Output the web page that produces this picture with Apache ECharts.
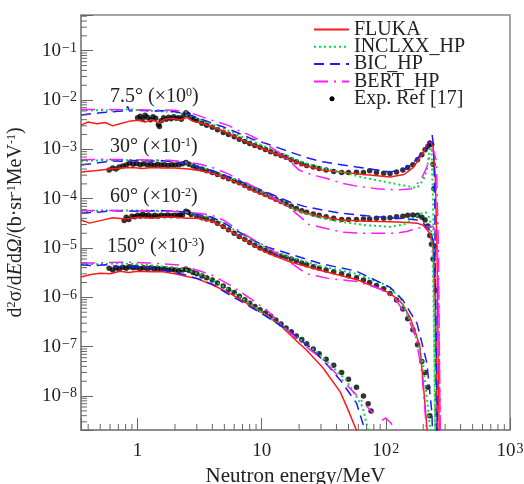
<!DOCTYPE html>
<html>
<head>
<meta charset="utf-8">
<script src="https://cdn.jsdelivr.net/npm/echarts@6/dist/echarts.min.js"></script>
<style>
html, body { margin: 0; padding: 0; background: #fff; }
#chart { width: 524px; height: 484px; }
</style>
</head>
<body>
<div id="chart"></div>
<script>
// axis ranges
var X_MIN = 0.35, X_MAX = 1000;
var Y_MIN = 2.05e-9, Y_MAX = 0.53;

// minor tick positions (log axes)
var xMinorTicks = [0.4, 0.5, 0.6, 0.7, 0.8, 0.9, 2, 3, 4, 5, 6, 7, 8, 9,
  20, 30, 40, 50, 60, 70, 80, 90, 200, 300, 400, 500, 600, 700, 800, 900];
var yMinorMant = [2, 3, 4, 5, 6, 7, 8, 9];
var yMinorExp = [-9, -8, -7, -6, -5, -4, -3, -2, -1];

// ---- 7.5 deg (x10^0) ----
var fluka7 = [[0.35,3.1e-3],[0.4,3.6e-3],[0.47,3.3e-3],[0.55,3.5e-3],[0.63,3.0e-3],[0.72,3.3e-3],[0.85,3.7e-3],[1.0,3.9e-3],[1.15,3.6e-3],[1.3,4.0e-3],[1.5,3.4e-3],[1.65,4.1e-3],[1.9,4.3e-3],[2.2,4.0e-3],[2.5,4.4e-3],[2.8,3.7e-3],[3.3,3.4e-3],[4.0,2.9e-3],[5.0,2.3e-3],[6.6,1.65e-3],[8.5,1.25e-3],[11,9.5e-4],[14,7.5e-4],[17.8,5.8e-4],[22,4.7e-4],[31,3.8e-4],[58,3.2e-4],[108,2.75e-4],[140,3.1e-4],[165,4.2e-4],[199,8.4e-4],[218,1.35e-3],[231,1.4e-3],[240,1.1e-3],[250,3e-4],[258,1e-5],[266,1e-8],[275,1e-10]];
var incl7 = [[0.35,6.3e-3],[0.5,6.2e-3],[0.7,6.1e-3],[0.85,6.6e-3],[1.0,6.2e-3],[1.4,6.0e-3],[2.0,5.7e-3],[2.6,4.9e-3],[3.2,4.0e-3],[4.0,3.2e-3],[5.0,2.6e-3],[6.6,1.9e-3],[8.5,1.45e-3],[11,1.1e-3],[14,8.6e-4],[17.8,6.6e-4],[24,5.0e-4],[31,4.2e-4],[43,3.5e-4],[70,2.6e-4],[108,2.1e-4],[150,1.8e-4],[178,1.65e-4],[200,2.4e-4],[214,3.8e-4],[226,1.12e-3],[233,1.0e-3],[240,1e-4],[246,1e-7],[252,1e-10]];
var bic7 = [[0.35,5.0e-3],[0.5,5.5e-3],[0.7,5.9e-3],[0.8,6.1e-3],[0.83,7.5e-3],[0.86,6.0e-3],[1.0,6.2e-3],[1.3,6.0e-3],[1.6,6.1e-3],[2.0,5.8e-3],[2.5,5.2e-3],[3.0,4.4e-3],[4.0,3.4e-3],[5.0,2.8e-3],[6.6,2.1e-3],[8.5,1.6e-3],[11,1.3e-3],[14,1.05e-3],[18,8.4e-4],[24,6.6e-4],[31,5.6e-4],[58,4.4e-4],[108,3.5e-4],[140,3.9e-4],[165,5.3e-4],[190,7.8e-4],[214,1.12e-3],[228,1.6e-3],[236,1.95e-3],[242,1.2e-3],[248,1e-4],[252,1e-7],[258,1e-10]];
var bert7 = [[0.35,6.4e-3],[0.6,6.4e-3],[1.0,6.3e-3],[1.5,6.3e-3],[2.0,6.2e-3],[2.6,5.6e-3],[4.0,3.9e-3],[5.5,3.0e-3],[6.3,2.5e-3],[8,1.95e-3],[10,1.45e-3],[13,9.5e-4],[16,6.5e-4],[20,3.8e-4],[26,3.0e-4],[33,2.6e-4],[43,2.1e-4],[58,1.8e-4],[85,1.6e-4],[123,1.5e-4],[160,1.6e-4],[190,2.3e-4],[214,4.4e-4],[228,8e-4],[240,1.0e-3],[255,6e-4],[265,1e-5],[272,1e-8],[280,1e-10]];
var exp7 = [[1.0,4.4e-3],[1.05,4.7e-3],[1.1,4.2e-3],[1.15,4.9e-3],[1.2,4.5e-3],[1.27,4.0e-3],[1.33,4.6e-3],[1.4,4.3e-3],[1.47,3.2e-3],[1.5,2.9e-3],[1.55,3.8e-3],[1.62,4.4e-3],[1.7,4.1e-3],[1.78,4.5e-3],[1.86,4.2e-3],[1.95,4.6e-3],[2.05,4.3e-3],[2.15,4.4e-3],[2.25,4.1e-3],[2.35,4.9e-3],[2.45,5.5e-3],[2.55,5.1e-3],[2.7,4.4e-3],[2.85,4.2e-3],[3.0,3.9e-3],[3.3,3.4e-3],[3.6,3.1e-3],[4.0,2.8e-3],[4.4,2.5e-3],[4.9,2.2e-3],[5.4,2.0e-3],[6.0,1.8e-3],[6.6,1.6e-3],[7.3,1.45e-3],[8.0,1.32e-3],[8.8,1.2e-3],[9.7,1.1e-3],[10.7,1.0e-3],[11.8,9.0e-4],[13,8.2e-4],[14.3,7.5e-4],[15.7,6.9e-4],[17.3,6.2e-4],[19,5.6e-4],[21,5.1e-4],[23,4.7e-4],[26,4.4e-4],[29,4.1e-4],[33,3.8e-4],[38,3.55e-4],[44,3.4e-4],[50,3.4e-4],[58,3.45e-4],[66,3.4e-4],[74,3.7e-4],[84,3.4e-4],[96,3.3e-4],[108,3.25e-4],[122,3.5e-4],[137,3.8e-4],[150,4.3e-4],[165,4.9e-4],[180,6.2e-4],[195,7.8e-4],[207,9.8e-4],[218,1.15e-3],[226,1.35e-3],[234,1.25e-3],[240,5e-4],[244,1.6e-4],[247,1.1e-5],[252,1.4e-6]];

// ---- 30 deg (x10^-1) ----
var fluka30 = [[0.35,3.5e-4],[0.45,3.7e-4],[0.6,4.0e-4],[0.75,4.2e-4],[0.9,4.3e-4],[1.1,4.1e-4],[1.3,4.3e-4],[1.6,4.2e-4],[2.0,4.2e-4],[2.6,4.0e-4],[3.2,3.7e-4],[4.0,3.3e-4],[5.0,2.7e-4],[6.6,2.0e-4],[8.5,1.45e-4],[11,1.1e-4],[14,8.5e-5],[17,6.6e-5],[22,5.2e-5],[31,4.3e-5],[43,3.7e-5],[70,3.5e-5],[108,3.4e-5],[150,3.3e-5],[178,3.2e-5],[200,2.9e-5],[226,2.0e-5],[240,1.0e-5],[250,1e-6],[258,1e-8],[265,1e-10]];
var incl30 = [[0.35,5.8e-4],[0.5,6.0e-4],[0.7,6.1e-4],[1.0,6.0e-4],[1.4,6.0e-4],[2.0,5.7e-4],[2.6,5.1e-4],[3.2,4.4e-4],[4.0,3.7e-4],[5.0,3.0e-4],[6.6,2.3e-4],[8.5,1.65e-4],[11,1.2e-4],[14,9.0e-5],[17,6.8e-5],[22,5.1e-5],[31,4.0e-5],[43,3.4e-5],[70,2.9e-5],[108,2.7e-5],[140,3.0e-5],[165,3.9e-5],[190,5.0e-5],[210,5.3e-5],[226,4.0e-5],[236,1.5e-5],[242,1e-6],[248,1e-8],[254,1e-10]];
var bic30 = [[0.35,4.8e-4],[0.5,5.4e-4],[0.63,5.8e-4],[0.8,5.7e-4],[1.0,6.0e-4],[1.3,5.8e-4],[1.6,5.9e-4],[2.0,5.6e-4],[2.6,5.0e-4],[3.2,4.3e-4],[4.0,3.7e-4],[5.0,3.0e-4],[6.6,2.3e-4],[8.5,1.75e-4],[11,1.35e-4],[14,1.05e-4],[17,8.5e-5],[22,7.0e-5],[31,5.9e-5],[43,5.1e-5],[70,4.5e-5],[108,4.1e-5],[150,3.9e-5],[178,3.7e-5],[200,3.2e-5],[226,2.3e-5],[245,1.2e-5],[252,1e-6],[258,1e-8],[264,1e-10]];
var bert30 = [[0.35,6.2e-4],[0.5,6.3e-4],[0.8,6.2e-4],[1.2,6.1e-4],[1.8,6.0e-4],[2.5,5.5e-4],[3.2,5.0e-4],[4.0,4.3e-4],[5.2,3.3e-4],[7.0,2.3e-4],[9.5,1.55e-4],[12,1.1e-4],[16,7.2e-5],[20,4.5e-5],[24,3.0e-5],[33,2.5e-5],[45,2.1e-5],[60,2.0e-5],[90,2.0e-5],[123,2.0e-5],[150,2.2e-5],[180,2.55e-5],[215,2.7e-5],[240,2.7e-5],[258,2.0e-5],[266,1e-6],[272,1e-8],[280,1e-10]];
var exp30 = [[0.59,3.8e-4],[0.63,4.2e-4],[0.67,4.0e-4],[0.71,4.4e-4],[0.76,4.6e-4],[0.81,4.8e-4],[0.86,5.3e-4],[0.92,5.0e-4],[0.98,5.2e-4],[1.05,4.9e-4],[1.12,5.1e-4],[1.2,4.8e-4],[1.28,5.0e-4],[1.36,4.7e-4],[1.45,5.0e-4],[1.55,4.8e-4],[1.65,4.9e-4],[1.76,4.7e-4],[1.88,4.9e-4],[2.0,4.8e-4],[2.15,4.9e-4],[2.3,5.1e-4],[2.45,5.4e-4],[2.6,5.0e-4],[2.8,4.6e-4],[3.0,4.3e-4],[3.3,4.0e-4],[3.6,3.7e-4],[4.0,3.4e-4],[4.4,3.1e-4],[4.9,2.8e-4],[5.4,2.55e-4],[6.0,2.3e-4],[6.6,2.1e-4],[7.3,1.85e-4],[8.0,1.65e-4],[8.8,1.5e-4],[9.7,1.35e-4],[10.7,1.22e-4],[11.8,1.1e-4],[13,9.8e-5],[14.3,8.8e-5],[15.7,7.9e-5],[17.3,7.0e-5],[19,6.3e-5],[21,5.7e-5],[23,5.3e-5],[26,4.9e-5],[29,4.6e-5],[33,4.3e-5],[38,4.0e-5],[44,3.8e-5],[50,3.8e-5],[58,3.8e-5],[66,3.9e-5],[74,3.9e-5],[84,4.0e-5],[96,4.0e-5],[108,4.1e-5],[122,4.3e-5],[137,4.4e-5],[150,4.6e-5],[165,4.7e-5],[180,4.6e-5],[195,4.2e-5],[207,3.7e-5],[218,2.8e-5],[226,1.8e-5],[233,1.2e-5],[240,6e-6]];

// ---- 60 deg (x10^-2) ----
var fluka60 = [[0.35,3.7e-5],[0.41,3.2e-5],[0.5,3.6e-5],[0.63,4.1e-5],[0.8,3.9e-5],[1.0,4.2e-5],[1.3,4.0e-5],[1.6,4.25e-5],[2.0,4.2e-5],[2.5,4.0e-5],[3.0,4.0e-5],[4.0,3.5e-5],[5.0,2.6e-5],[6.6,1.7e-5],[8.5,1.15e-5],[11,8.0e-6],[17,5.2e-6],[30,3.5e-6],[58,2.3e-6],[108,1.22e-6],[135,7.5e-7],[156,4.0e-7],[175,1.8e-7],[188,9.9e-8],[199,2.1e-8],[214,2.35e-9],[222,1e-10]];
var incl60 = [[0.35,5.6e-5],[0.6,5.8e-5],[1.0,5.8e-5],[1.5,5.7e-5],[2.0,5.6e-5],[2.6,5.2e-5],[4.0,4.1e-5],[5.0,3.1e-5],[6.6,2.0e-5],[8.5,1.4e-5],[11,9.8e-6],[17,6.5e-6],[30,4.3e-6],[58,3.0e-6],[100,1.8e-6],[130,1.0e-6],[165,2.5e-7],[199,4.7e-8],[226,2.6e-9],[235,1e-10]];
var bic60 = [[0.35,5.1e-5],[0.5,5.4e-5],[0.63,5.7e-5],[1.0,5.6e-5],[1.5,5.7e-5],[2.0,5.6e-5],[2.6,5.2e-5],[4.0,4.2e-5],[5.0,3.2e-5],[6.6,2.1e-5],[8.5,1.45e-5],[11,1.05e-5],[17,7.5e-6],[30,4.8e-6],[58,3.4e-6],[108,1.6e-6],[137,8.8e-7],[178,3.0e-7],[214,4.7e-8],[235,4.5e-9],[245,1e-10]];
var bert60 = [[0.35,5.7e-5],[0.6,5.8e-5],[1.0,5.7e-5],[1.5,5.6e-5],[2.0,5.5e-5],[2.6,5.3e-5],[3.2,5.0e-5],[4.0,4.6e-5],[5.0,3.6e-5],[6.6,2.2e-5],[8.5,1.5e-5],[11,1.05e-5],[14,7.0e-6],[18,4.6e-6],[23,3.0e-6],[35,2.4e-6],[58,2.1e-6],[90,1.5e-6],[120,9e-7],[150,4.0e-7],[175,1.5e-7],[195,3e-8],[210,3e-9],[220,1e-10]];
var exp60 = [[0.78,3.6e-5],[0.81,4.2e-5],[0.85,3.8e-5],[0.9,4.4e-5],[0.95,4.3e-5],[1.0,4.6e-5],[1.05,4.4e-5],[1.1,4.9e-5],[1.16,4.5e-5],[1.22,4.7e-5],[1.3,4.4e-5],[1.38,4.6e-5],[1.46,4.4e-5],[1.55,4.6e-5],[1.65,4.5e-5],[1.75,4.7e-5],[1.86,4.5e-5],[1.98,4.6e-5],[2.1,4.5e-5],[2.2,4.7e-5],[2.3,4.7e-5],[2.45,5.6e-5],[2.55,5.3e-5],[2.7,4.8e-5],[3.0,4.4e-5],[3.3,4.1e-5],[3.6,3.9e-5],[4.0,3.6e-5],[4.4,3.2e-5],[4.9,2.75e-5],[5.4,2.35e-5],[6.0,2.0e-5],[6.6,1.72e-5],[7.3,1.5e-5],[8.0,1.3e-5],[8.8,1.14e-5],[9.7,1.0e-5],[10.7,9.0e-6],[11.8,8.1e-6],[13,7.4e-6],[14.3,6.9e-6],[15.7,6.5e-6],[17.3,6.0e-6],[19,5.5e-6],[21,5.0e-6],[23,4.6e-6],[26,4.2e-6],[29,3.9e-6],[33,3.6e-6],[38,3.3e-6],[44,3.0e-6],[50,2.75e-6],[58,2.5e-6],[66,2.25e-6],[74,2.0e-6],[84,1.75e-6],[96,1.5e-6],[108,1.2e-6],[122,8.8e-7],[137,5.8e-7],[150,3.7e-7],[165,2.2e-7],[180,1.1e-7],[195,5.0e-8],[207,3.0e-8],[218,1.5e-8],[226,4e-9]];

// ---- 150 deg (x10^-3) ----
var fluka150 = [[0.35,2.6e-6],[0.42,2.9e-6],[0.5,3.1e-6],[0.6,3.0e-6],[0.72,3.4e-6],[0.85,3.2e-6],[1.0,3.4e-6],[1.3,3.3e-6],[1.6,3.3e-6],[2.0,3.0e-6],[2.4,2.7e-6],[3.0,2.4e-6],[4.0,1.8e-6],[5.5,1.22e-6],[7,8.5e-7],[9,6.0e-7],[11,4.3e-7],[14,2.8e-7],[18,1.5e-7],[23,8.5e-8],[31,3.8e-8],[43,1.2e-8],[50,5e-9],[58,2e-9],[64,5e-10]];
var incl150 = [[0.35,4.8e-6],[0.5,4.7e-6],[0.7,4.9e-6],[1.0,4.7e-6],[1.4,4.4e-6],[2.0,4.0e-6],[2.6,3.5e-6],[3.2,2.9e-6],[4.0,2.3e-6],[5.5,1.4e-6],[7,9.5e-7],[9.6,5.4e-7],[12,3.6e-7],[16,2.2e-7],[19,1.6e-7],[24,1.05e-7],[31,6.0e-8],[48,2.1e-8],[65,6.0e-9],[72,2.0e-9],[78,5e-10]];
var bic150 = [[0.35,4.6e-6],[0.45,4.4e-6],[0.55,4.6e-6],[0.65,4.3e-6],[0.8,4.2e-6],[1.0,4.1e-6],[1.3,3.9e-6],[1.6,3.6e-6],[2.0,3.2e-6],[2.5,2.8e-6],[3.2,2.3e-6],[4.0,1.85e-6],[5.5,1.12e-6],[7,8.0e-7],[9.6,5.0e-7],[12,3.5e-7],[16,2.2e-7],[19,1.6e-7],[24,1.0e-7],[31,5.4e-8],[43,2.1e-8],[58,7.2e-9],[68,2.0e-9],[74,5e-10]];
var bert150 = [[0.35,5.0e-6],[0.5,5.0e-6],[0.8,5.2e-6],[1.2,5.0e-6],[1.6,4.8e-6],[2.2,4.5e-6],[3.0,3.6e-6],[4.0,2.8e-6],[5.5,1.8e-6],[8,9.7e-7],[11,5.5e-7],[14,3.0e-7],[17,1.9e-7],[19,1.5e-7],[24,9.0e-8],[31,5.5e-8],[43,2.3e-8],[60,9.5e-9],[79,4.5e-9],[85,'-'],[93,3.2e-9],[100,3.6e-9],[110,2.8e-9],[123,1.9e-9]];
var exp150 = [[0.59,3.9e-6],[0.63,3.6e-6],[0.67,4.0e-6],[0.71,3.7e-6],[0.76,4.1e-6],[0.81,3.9e-6],[0.86,4.2e-6],[0.92,4.0e-6],[0.98,4.1e-6],[1.05,3.8e-6],[1.12,4.0e-6],[1.2,3.8e-6],[1.28,4.0e-6],[1.36,3.8e-6],[1.45,3.9e-6],[1.55,3.7e-6],[1.65,3.8e-6],[1.76,3.6e-6],[1.88,3.7e-6],[2.0,3.6e-6],[2.15,3.5e-6],[2.3,3.6e-6],[2.45,3.7e-6],[2.6,3.5e-6],[2.8,3.2e-6],[3.0,3.0e-6],[3.3,2.7e-6],[3.6,2.5e-6],[4.0,2.25e-6],[4.4,1.95e-6],[4.9,1.7e-6],[5.4,1.45e-6],[6.0,1.25e-6],[6.6,1.05e-6],[7.3,9.0e-7],[8.0,7.6e-7],[8.8,6.5e-7],[9.7,5.6e-7],[10.7,4.8e-7],[11.8,4.2e-7],[13,3.5e-7],[14.3,2.9e-7],[15.7,2.4e-7],[17.3,2.0e-7],[19,1.65e-7],[21,1.4e-7],[23,1.15e-7],[26,9.0e-8],[29,7.2e-8],[33,5.6e-8],[38,4.2e-8],[44,3.0e-8],[50,2.2e-8],[58,1.5e-8],[66,1.0e-8],[72,7.0e-9],[76,5.0e-9]];

// angle labels
var angleLabels = [
  { text: '7.5° (×10{s|0})', left: 110, top: 87 },
  { text: '30° (×10{s|-1})', left: 110, top: 137 },
  { text: '60° (×10{s|-2})', left: 110, top: 187 },
  { text: '150° (×10{s|-3})', left: 107, top: 237 }
];

var FONT = 'Liberation Serif';
var COLORS = { fluka: '#ff1a1a', incl: '#00dd44', bic: '#1a1aff', bert: '#ff1aff' };

function line(name, data, color, type, width) {
  return {
    name: name, type: 'line', data: data, symbol: 'none', showSymbol: false,
    connectNulls: false, z: 3, silent: true,
    lineStyle: { color: color, width: width, type: type },
    itemStyle: { color: color }
  };
}
function points(data) {
  return {
    name: 'Exp. Ref [17]', type: 'scatter', data: data, symbol: 'circle', symbolSize: 5.5,
    z: 2, silent: true, itemStyle: { color: '#000' }
  };
}

var yMinorTicks = [];
yMinorExp.forEach(function (e) {
  yMinorMant.forEach(function (m) {
    var v = m * Math.pow(10, e);
    if (v > Y_MIN && v < Y_MAX) yMinorTicks.push(v);
  });
});

function powLabel(v, plainBelow) {
  var l = Math.log10(v), e = Math.round(l);
  if (Math.abs(l - e) > 1e-6) return '';
  if (e >= 0 && e <= plainBelow) return String(Math.round(v));
  return '{a|10}{s|' + (e < 0 ? '\u2212' + (-e) : e) + '}';
}

var tickRich = {
  a: { fontFamily: FONT, fontSize: 19, color: '#222' },
  s: { fontFamily: FONT, fontSize: 14, color: '#222', verticalAlign: 'top', lineHeight: 13, padding: [0, 0, 0, 1] }
};

var series = [
  points(exp7), points(exp30), points(exp60), points(exp150),
  line('FLUKA', fluka7, COLORS.fluka, 'solid', 1.5),
  line('INCLXX_HP', incl7, COLORS.incl, [2, 3], 2),
  line('BIC_HP', bic7, COLORS.bic, [10, 6], 1.5),
  line('BERT_HP', bert7, COLORS.bert, [14, 6, 2, 6], 1.5),
  line('FLUKA', fluka30, COLORS.fluka, 'solid', 1.5),
  line('INCLXX_HP', incl30, COLORS.incl, [2, 3], 2),
  line('BIC_HP', bic30, COLORS.bic, [10, 6], 1.5),
  line('BERT_HP', bert30, COLORS.bert, [14, 6, 2, 6], 1.5),
  line('FLUKA', fluka60, COLORS.fluka, 'solid', 1.5),
  line('INCLXX_HP', incl60, COLORS.incl, [2, 3], 2),
  line('BIC_HP', bic60, COLORS.bic, [10, 6], 1.5),
  line('BERT_HP', bert60, COLORS.bert, [14, 6, 2, 6], 1.5),
  line('FLUKA', fluka150, COLORS.fluka, 'solid', 1.5),
  line('INCLXX_HP', incl150, COLORS.incl, [2, 3], 2),
  line('BIC_HP', bic150, COLORS.bic, [10, 6], 1.5),
  line('BERT_HP', bert150, COLORS.bert, [14, 6, 2, 6], 1.5),
  // minor ticks on the log axes
  {
    type: 'custom', silent: true, z: 6,
    data: xMinorTicks.map(function (v) { return [v, Y_MIN]; }),
    renderItem: function (params, api) {
      var p = api.coord([api.value(0), Y_MIN]);
      return { type: 'line', shape: { x1: p[0], y1: p[1], x2: p[0], y2: p[1] - 6 },
        style: { stroke: '#666', lineWidth: 1 } };
    }
  },
  {
    type: 'custom', silent: true, z: 6,
    data: yMinorTicks.map(function (v) { return [X_MIN, v]; }),
    renderItem: function (params, api) {
      var p = api.coord([X_MIN, api.value(1)]);
      return { type: 'line', shape: { x1: p[0], y1: p[1], x2: p[0] + 6, y2: p[1] },
        style: { stroke: '#666', lineWidth: 1 } };
    }
  }
];

var chart = echarts.init(document.getElementById('chart'), null, { renderer: 'canvas' });

var option = {
  animation: false,
  backgroundColor: '#fff',
  grid: { left: 81, right: 14, top: 15, bottom: 54, containLabel: false, outerBoundsMode: 'none',
    show: true, borderColor: '#888', borderWidth: 1.5, backgroundColor: 'transparent' },
  legend: {
    orient: 'vertical', left: 313, top: 19.5, padding: 0,
    itemWidth: 35, itemHeight: 10, itemGap: -2.7, itemTextGap: 6,
    selectedMode: false,
    itemStyle: { opacity: 0 },
    textStyle: { fontFamily: FONT, fontSize: 20, color: '#222', lineHeight: 17 },
    data: ['FLUKA', 'INCLXX_HP', 'BIC_HP', 'BERT_HP',
      { name: 'Exp. Ref [17]', icon: 'path://M0,0M35,10M15.5,5a2.5,2.5 0 1,0 5,0a2.5,2.5 0 1,0 -5,0z', itemStyle: { color: '#000', opacity: 1 } }]
  },
  xAxis: {
    type: 'log', logBase: 10, min: X_MIN, max: X_MAX,
    name: 'Neutron energy/MeV', nameLocation: 'middle', nameGap: 36,
    nameTextStyle: { fontFamily: FONT, fontSize: 21, color: '#222' },
    axisLine: { lineStyle: { color: '#888', width: 1.5 } },
    axisTick: { inside: true, length: 12, lineStyle: { color: '#666' } },
    splitLine: { show: false },
    axisLabel: {
      margin: 12, fontFamily: FONT, fontSize: 19, color: '#222',
      formatter: function (v) { return powLabel(v, 1); },
      rich: tickRich
    }
  },
  yAxis: {
    type: 'log', logBase: 10, min: Y_MIN, max: Y_MAX,
    name: 'd{s|2}σ/d{i|E}d{i|Ω}/(b·sr{s|-1}MeV{s|-1})', nameLocation: 'middle', nameGap: 55,
    nameTextStyle: { fontFamily: FONT, fontSize: 20, color: '#222',
      rich: { s: { fontFamily: FONT, fontSize: 12, color: '#222', verticalAlign: 'top', lineHeight: 12 },
              i: { fontFamily: FONT, fontSize: 20, fontStyle: 'italic', color: '#222' } } },
    axisLine: { lineStyle: { color: '#888', width: 1.5 } },
    axisTick: { inside: true, length: 12, lineStyle: { color: '#666' } },
    splitLine: { show: false },
    axisLabel: {
      margin: 4, fontFamily: FONT, fontSize: 19, color: '#222',
      formatter: function (v) { return powLabel(v, -1); },
      rich: tickRich
    }
  },
  graphic: angleLabels.map(function (lab) {
    return {
      type: 'text', left: lab.left, top: lab.top, silent: true, z: 10,
      style: {
        text: lab.text, fill: '#222', font: '20px "' + FONT + '"',
        rich: { s: { fontFamily: FONT, fontSize: 12, fill: '#222', verticalAlign: 'top', lineHeight: 12 } }
      }
    };
  }),
  series: series
};

chart.setOption(option);
</script>
</body>
</html>
